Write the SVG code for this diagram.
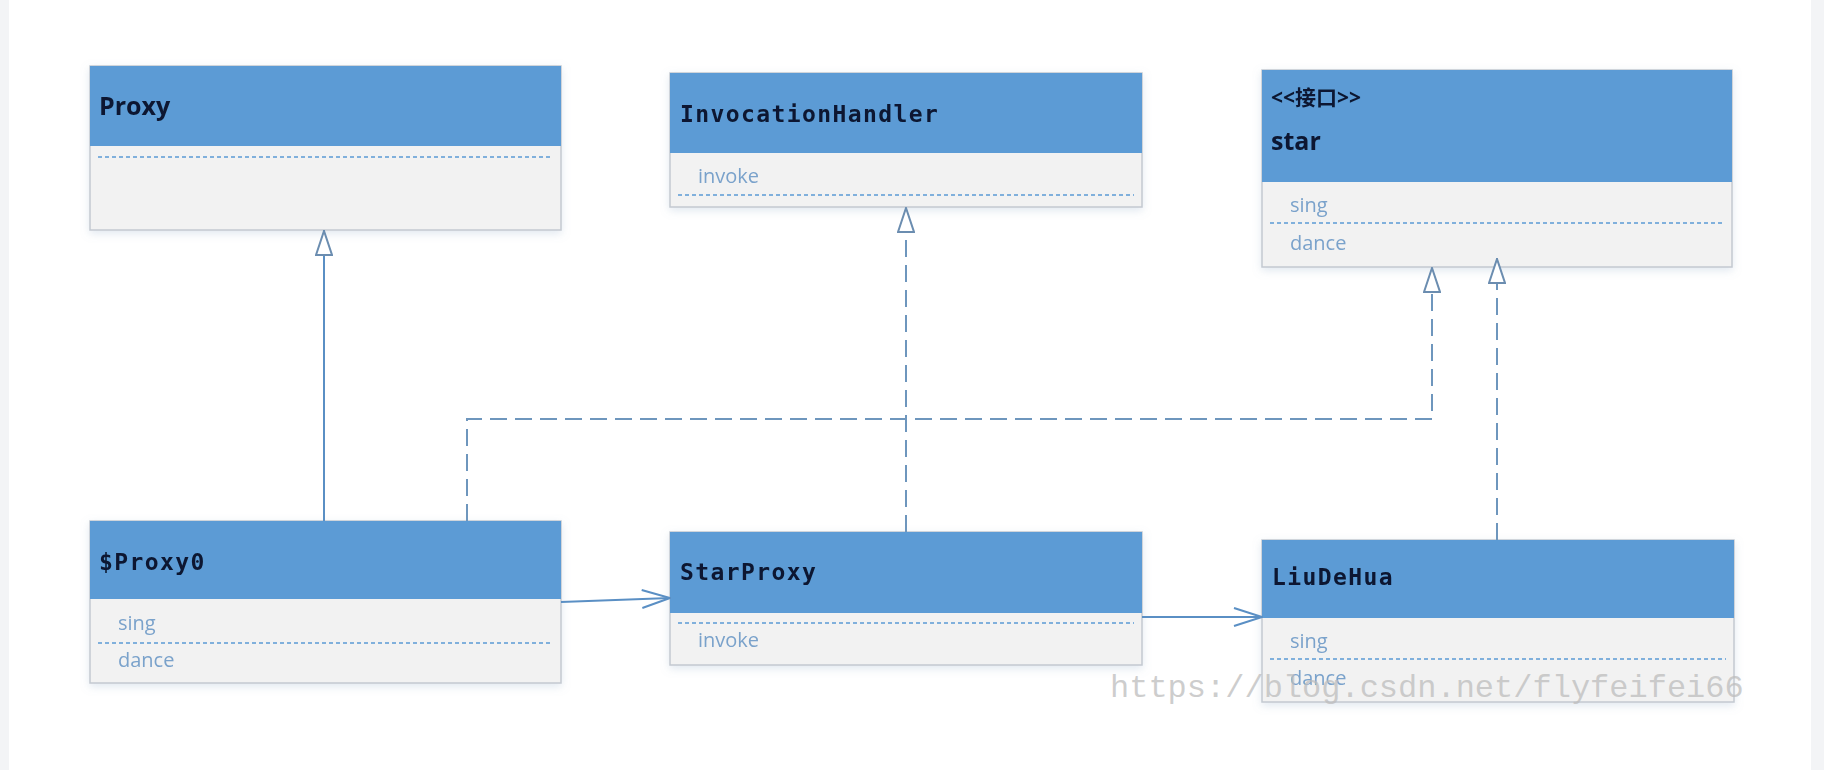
<svg xmlns="http://www.w3.org/2000/svg" width="1824" height="770" viewBox="0 0 1824 770">
<defs>
<style>
.box{fill:#f2f2f2;stroke:#c3c9d1;stroke-width:1.5}
.hdr{fill:#5b9bd5}
.sep{stroke:#5b9bd5;stroke-width:1.5;stroke-dasharray:4 3;fill:none}
.tmono{font-family:"DejaVu Sans Mono","Liberation Mono",monospace;font-weight:bold;font-size:23px;letter-spacing:1.4px;fill:#0c1830}
.tsans{font-family:"Open Sans","Liberation Sans",sans-serif;font-weight:bold;font-size:25px;fill:#0c1830}
.tcjk{font-family:"Open Sans","Noto Sans CJK SC",sans-serif;font-weight:bold;font-size:21px;fill:#0c1830}
.mem{font-family:"Open Sans","Liberation Sans",sans-serif;font-size:20px;fill:#7aa2cb}
.solid{fill:none;stroke:#5a8fc4;stroke-width:2}
.dash{fill:none;stroke:#6e96bd;stroke-width:2;stroke-dasharray:17 8}
.wm{font-family:"Liberation Mono","DejaVu Sans Mono",monospace;font-size:32px;fill:#bdbdbd;fill-opacity:0.75}
</style>
<filter id="sh" x="-5%" y="-10%" width="110%" height="125%">
<feDropShadow dx="0" dy="3" stdDeviation="4" flood-color="#8aa6c4" flood-opacity="0.25"/>
</filter>
<marker id="tri" viewBox="0 0 26 18" refX="26" refY="9" markerWidth="26" markerHeight="18" markerUnits="userSpaceOnUse" orient="auto">
<path d="M1,1 L25,9 L1,17 Z" fill="#ffffff" stroke="#6b8db0" stroke-width="2"/>
</marker>
<marker id="open" viewBox="0 0 30 20" refX="29" refY="10" markerWidth="30" markerHeight="20" markerUnits="userSpaceOnUse" orient="auto">
<path d="M1,1 L29,10 L1,19" fill="none" stroke="#5a8fc4" stroke-width="2"/>
</marker>
</defs>
<rect x="0" y="0" width="1824" height="770" fill="#ffffff"/>
<rect x="0" y="0" width="9" height="770" fill="#f3f4f6"/>
<rect x="1811" y="0" width="13" height="770" fill="#f3f4f6"/>

<g id="Proxy" filter="url(#sh)">
<rect class="box" x="90" y="66" width="471" height="164"/>
<rect class="hdr" x="90" y="66" width="471" height="80"/>
<text class="tsans" x="99" y="115">Proxy</text>
<line class="sep" x1="98" y1="157" x2="553" y2="157"/>
</g>

<g id="InvocationHandler" filter="url(#sh)">
<rect class="box" x="670" y="73" width="472" height="134"/>
<rect class="hdr" x="670" y="73" width="472" height="80"/>
<text class="tmono" x="680" y="122">InvocationHandler</text>
<text class="mem" x="698" y="183">invoke</text>
<line class="sep" x1="678" y1="195" x2="1134" y2="195"/>
</g>

<g id="star" filter="url(#sh)">
<rect class="box" x="1262" y="70" width="470" height="197"/>
<rect class="hdr" x="1262" y="70" width="470" height="112"/>
<text class="tcjk" x="1271" y="105">&lt;&lt;接口&gt;&gt;</text>
<text class="tsans" x="1271" y="150">star</text>
<text class="mem" x="1290" y="212">sing</text>
<line class="sep" x1="1270" y1="223" x2="1724" y2="223"/>
<text class="mem" x="1290" y="250">dance</text>
</g>

<g id="Proxy0" filter="url(#sh)">
<rect class="box" x="90" y="521" width="471" height="162"/>
<rect class="hdr" x="90" y="521" width="471" height="78"/>
<text class="tmono" x="99" y="570">$Proxy0</text>
<text class="mem" x="118" y="630">sing</text>
<line class="sep" x1="98" y1="643" x2="553" y2="643"/>
<text class="mem" x="118" y="667">dance</text>
</g>

<g id="StarProxy" filter="url(#sh)">
<rect class="box" x="670" y="532" width="472" height="133"/>
<rect class="hdr" x="670" y="532" width="472" height="81"/>
<text class="tmono" x="680" y="580">StarProxy</text>
<line class="sep" x1="678" y1="623" x2="1134" y2="623"/>
<text class="mem" x="698" y="647">invoke</text>
</g>

<g id="LiuDeHua" filter="url(#sh)">
<rect class="box" x="1262" y="540" width="472" height="162"/>
<rect class="hdr" x="1262" y="540" width="472" height="78"/>
<text class="tmono" x="1272" y="585">LiuDeHua</text>
<text class="mem" x="1290" y="648">sing</text>
<line class="sep" x1="1270" y1="659" x2="1726" y2="659"/>
<text class="mem" x="1290" y="685">dance</text>
</g>

<g id="connectors">
<path class="solid" d="M324,521 L324,230" marker-end="url(#tri)"/>
<path class="dash" d="M467,521 L467,419 L1432,419 L1432,267" marker-end="url(#tri)"/>
<path class="dash" d="M906,532 L906,207" marker-end="url(#tri)"/>
<path class="dash" d="M1497,540 L1497,258" marker-end="url(#tri)"/>
<path class="solid" d="M561,602 L670,598" marker-end="url(#open)"/>
<path class="solid" d="M1142,617 L1262,617" marker-end="url(#open)"/>
</g>

<text class="wm" x="1110" y="697">https://blog.csdn.net/flyfeifei66</text>
</svg>
